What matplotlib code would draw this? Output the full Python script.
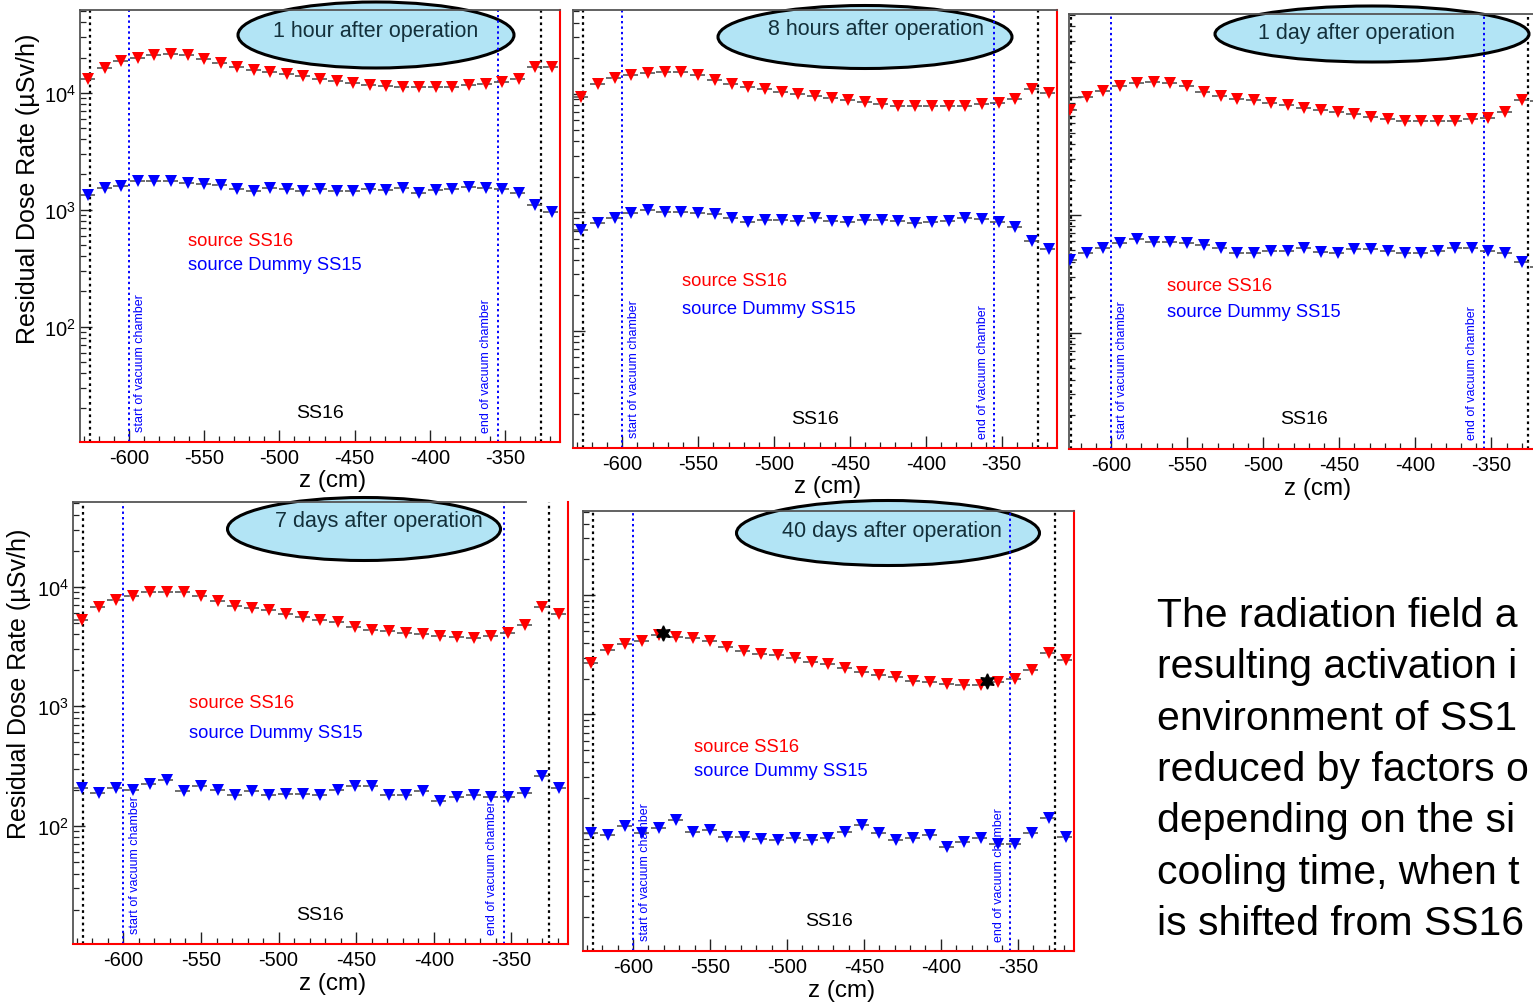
import math
import matplotlib
matplotlib.use('Agg')
import matplotlib.pyplot as plt
import matplotlib.transforms as mtransforms
from matplotlib.patches import Ellipse
from matplotlib.ticker import MultipleLocator, LogLocator, FuncFormatter, NullFormatter

plt.rcParams['font.family'] = ['Liberation Sans', 'DejaVu Sans']
plt.rcParams['mathtext.fontset'] = 'custom'
plt.rcParams['mathtext.rm'] = 'Liberation Sans'
plt.rcParams['mathtext.it'] = 'Liberation Sans:italic'
plt.rcParams['mathtext.bf'] = 'Liberation Sans:bold'
plt.rcParams['axes.unicode_minus'] = False

# ---------------- data ----------------
z_cm = [-627, -616, -605, -594, -583, -572, -561, -550, -539, -528, -517, -506, -495, -484,
        -473, -462, -451, -440, -429, -418, -407, -396, -385, -374, -363, -352, -341, -330, -319]

red_1h = [13060, 16300, 18500, 19900, 20900, 21600, 20900, 19500, 17900, 16500, 15700, 15100, 14400, 13800,
          13200, 12600, 12000, 11650, 11350, 11200, 11200, 11200, 11270, 11580, 11800, 12300, 13060, 16500, 16500]
blue_1h = [1332, 1523, 1597, 1741, 1741, 1764, 1683, 1649, 1629, 1493, 1443, 1543, 1493, 1443,
           1493, 1443, 1443, 1493, 1473, 1523, 1396, 1473, 1493, 1564, 1543, 1513, 1396, 1105, 948]

red_8h = [9500, 12050, 13530, 14430, 15090, 15380, 15380, 14430, 13030, 12050, 11450, 11090, 10470, 10070,
          9620, 9200, 8910, 8570, 8190, 7930, 7830, 7930, 7930, 7930, 8190, 8450, 9020, 11090, 10260]
blue_8h = [711, 809, 902, 981, 1046, 1000, 1000, 981, 962, 891, 835, 862, 862, 846,
           891, 846, 835, 862, 862, 846, 809, 835, 846, 891, 880, 835, 758, 579, 490]

red_1d = [7760, 10070, 11320, 12400, 13220, 13490, 13220, 12400, 11090, 10260, 9740, 9430, 8960, 8560,
          8120, 7760, 7510, 7180, 6810, 6590, 6300, 6300, 6300, 6300, 6510, 6730, 7510, 9550, 9310]
blue_1d = [416, 473, 522, 576, 626, 595, 587, 583, 557, 522, 480, 480, 495, 495,
           522, 489, 480, 512, 512, 495, 480, 480, 499, 522, 522, 499, 473, 397, 365]

red_7d = [5290, 6740, 7660, 8320, 9100, 8980, 8980, 8420, 7550, 6870, 6650, 6320, 5930, 5570,
          5290, 5060, 4600, 4370, 4260, 4130, 4000, 3880, 3800, 3730, 3880, 4100, 4810, 6740, 5930]
blue_7d = [207, 189, 207, 201, 224, 244, 194, 217, 198, 180, 194, 182, 185, 185,
           182, 198, 214, 214, 180, 182, 194, 163, 174, 180, 176, 174, 188, 263, 207]

red_40d = [2683, 3474, 3900, 4131, 4644, 4496, 4355, 4131, 3653, 3404, 3213, 3153, 2955, 2771,
           2632, 2468, 2284, 2141, 2047, 1920, 1882, 1800, 1764, 1764, 1882, 1968, 2361, 3296, 2865]
blue_40d = [101, 97, 115, 101, 112, 129, 103, 107, 94, 94, 89, 88, 91, 88,
            91, 103, 118, 100, 88, 91, 97, 77, 85, 91, 82, 81, 100, 134, 94]

star_z = [-580.5, -370]
star_dose = [4850, 1900]

titles = ['1 hour after operation', '8 hours after operation', '1 day after operation',
          '7 days after operation', '40 days after operation']
vac_start, vac_end = -600, -355
ss_bounds = [-626, -326]

# visible part of the slide text (cut by the right edge in the reference)
right_text = ['The radiation field a',
              'resulting activation i',
              'environment of SS1',
              'reduced by factors o',
              'depending on the si',
              'cooling time, when t',
              'is shifted from SS16']

# ---------------- layout ----------------
W, H = 1533, 1004
fig = plt.figure(figsize=(W / 100, H / 100), dpi=100)
fig.patch.set_facecolor('white')


def rect(l, t, r, b):
    return [l / W, 1 - b / H, (r - l) / W, (b - t) / H]


def P(x, y):
    return (x / W, 1 - y / H)


XL = (-632.5, -313.5)
YL = (10.3, 5.1e4)
BW = 5.5  # half bin width (cm)

panels = [
    dict(rect=rect(80, 11, 560, 443), xlim=XL, red=red_1h, blue=blue_1h, ylab=True,
         ell=(376, 36, 276, 66), ttl=(376, 31), leg=(188, 242, 266), ss=(320, 414),
         zl=(333, 481), ylabpos=(28, 189), topend=None),
    dict(rect=rect(573, 11, 1057, 449), xlim=XL, red=red_8h, blue=blue_8h, ylab=False,
         ell=(865, 38, 294, 63), ttl=(876, 30), leg=(682, 282, 310), ss=(815, 419),
         zl=(828, 487), ylabpos=None, topend=None),
    dict(rect=rect(1069, 15, 1547, 450), xlim=(-627.6, -313.5), red=red_1d, blue=blue_1d, ylab=False,
         ell=(1372, 35, 314, 56), ttl=(1356, 34), leg=(1167, 287, 313), ss=(1304, 420),
         zl=(1318, 489), ylabpos=None, topend=None),
    dict(rect=rect(73, 503, 568, 945), xlim=XL, red=red_7d, blue=blue_7d, ylab=True,
         ell=(364, 530, 273, 63), ttl=(379, 522), leg=(189, 704, 734), ss=(320, 916),
         zl=(333, 984), ylabpos=(19, 684), topend=-340.5),
    dict(rect=rect(583, 512, 1074, 952), xlim=XL, red=red_40d, blue=blue_40d, ylab=False,
         ell=(888, 534, 303, 65), ttl=(892, 532), leg=(694, 747, 772), ss=(829, 922),
         zl=(842, 991), ylabpos=None, topend=None),
]

for i, p in enumerate(panels):
    ax = fig.add_axes(p['rect'])
    ax.set_facecolor('none')
    ax.set_xlim(*p['xlim'])
    ax.set_yscale('log')
    ax.set_ylim(*YL)

    # spines
    for s in ['left', 'top']:
        ax.spines[s].set_color('#555555')
        ax.spines[s].set_linewidth(1.3)
    for s in ['right', 'bottom']:
        ax.spines[s].set_color('#ff0000')
        ax.spines[s].set_linewidth(1.5)
    if p['topend'] is not None:
        ax.spines['top'].set_bounds(p['xlim'][0], p['topend'])

    # ticks
    ax.xaxis.set_major_locator(MultipleLocator(50))
    ax.xaxis.set_minor_locator(MultipleLocator(10))
    ax.yaxis.set_major_locator(LogLocator(base=10))
    ax.yaxis.set_minor_locator(LogLocator(base=10, subs=range(2, 10)))
    ax.yaxis.set_minor_formatter(NullFormatter())
    if p['ylab']:
        ax.yaxis.set_major_formatter(FuncFormatter(lambda v, pos: r'$10^{%d}$' % round(math.log10(v))))
    else:
        ax.yaxis.set_major_formatter(NullFormatter())
    ax.tick_params(which='both', direction='in', top=False, right=False, colors='#222222',
                   labelcolor='black')
    ax.tick_params(which='major', length=8.5, width=1.0, labelsize=14.5, pad=3)
    ax.tick_params(which='minor', length=4.5, width=0.9)
    ax.tick_params(axis='x', labelsize=14.5, pad=4)

    # title ellipse (under the data lines)
    ex, ey, ew, eh = p['ell']
    ax.add_patch(Ellipse(P(ex, ey), ew / W, eh / H, transform=fig.transFigure, clip_on=False,
                         facecolor='#b2e4f5', edgecolor='black', linewidth=2.2, zorder=0.8))
    ax.text(*P(*p['ttl']), titles[i], transform=fig.transFigure, ha='center', va='center',
            fontsize=15.5, color='#13303b', zorder=0.9, clip_on=False)

    # reference lines
    for zb in ss_bounds:
        ax.axvline(zb, color='black', linestyle=(0, (1.2, 1.6)), linewidth=1.6, zorder=2)
    for zb in [vac_start, vac_end]:
        ax.axvline(zb, color='#0000ff', linestyle=(0, (1.2, 1.6)), linewidth=1.4, zorder=2)
    trans = mtransforms.blended_transform_factory(ax.transData, ax.transAxes)
    ax.text(vac_start + 7.5, 0.025, 'start of vacuum chamber', transform=trans, rotation=90,
            ha='center', va='bottom', fontsize=9, color='#0000ff', zorder=2.2)
    ax.text(vac_end - 7.5, 0.022, 'end of vacuum chamber', transform=trans, rotation=90,
            ha='center', va='bottom', fontsize=9, color='#0000ff', zorder=2.2)

    # data: bin-width dashes + markers
    for vals, col in [(p['red'], '#ff0000'), (p['blue'], '#0000ff')]:
        ax.hlines(vals, [z - BW for z in z_cm], [z + BW for z in z_cm], colors='#555555',
                  linestyles=(0, (3.5, 2.0)), linewidth=1.2, zorder=2.5)
        ax.plot(z_cm, vals, linestyle='none', marker='v', markersize=9, color=col,
                markeredgewidth=0, zorder=3)
    if i == 4:
        ax.plot(star_z, star_dose, linestyle='none', marker=(6, 1, 0), markersize=11,
                color='black', markeredgewidth=1.0, zorder=4)

    # legend-like texts
    lx, ly1, ly2 = p['leg']
    ax.text(*P(lx, ly1), 'source SS16', transform=fig.transFigure, ha='left', va='center',
            fontsize=13.2, color='#ff0000', zorder=5)
    ax.text(*P(lx, ly2), 'source Dummy SS15', transform=fig.transFigure, ha='left', va='center',
            fontsize=13.2, color='#0000ff', zorder=5)
    ax.text(*P(*p['ss']), 'SS16', transform=fig.transFigure, ha='center', va='center',
            fontsize=14, color='black', zorder=5)

    # axis titles
    fig.text(*P(*p['zl']), 'z (cm)', ha='center', va='center', fontsize=17.5)
    if p['ylabpos'] is not None:
        fig.text(*P(*p['ylabpos']), 'Residual Dose Rate (µSv/h)', rotation=90,
                 ha='center', va='center', fontsize=18)

# right side text
base_y = [627, 678, 730, 781, 832, 884, 935]
for line, by in zip(right_text, base_y):
    fig.text(*P(1157, by), line, ha='left', va='baseline', fontsize=29.5, color='black')

fig.savefig('out.png', dpi=100)
